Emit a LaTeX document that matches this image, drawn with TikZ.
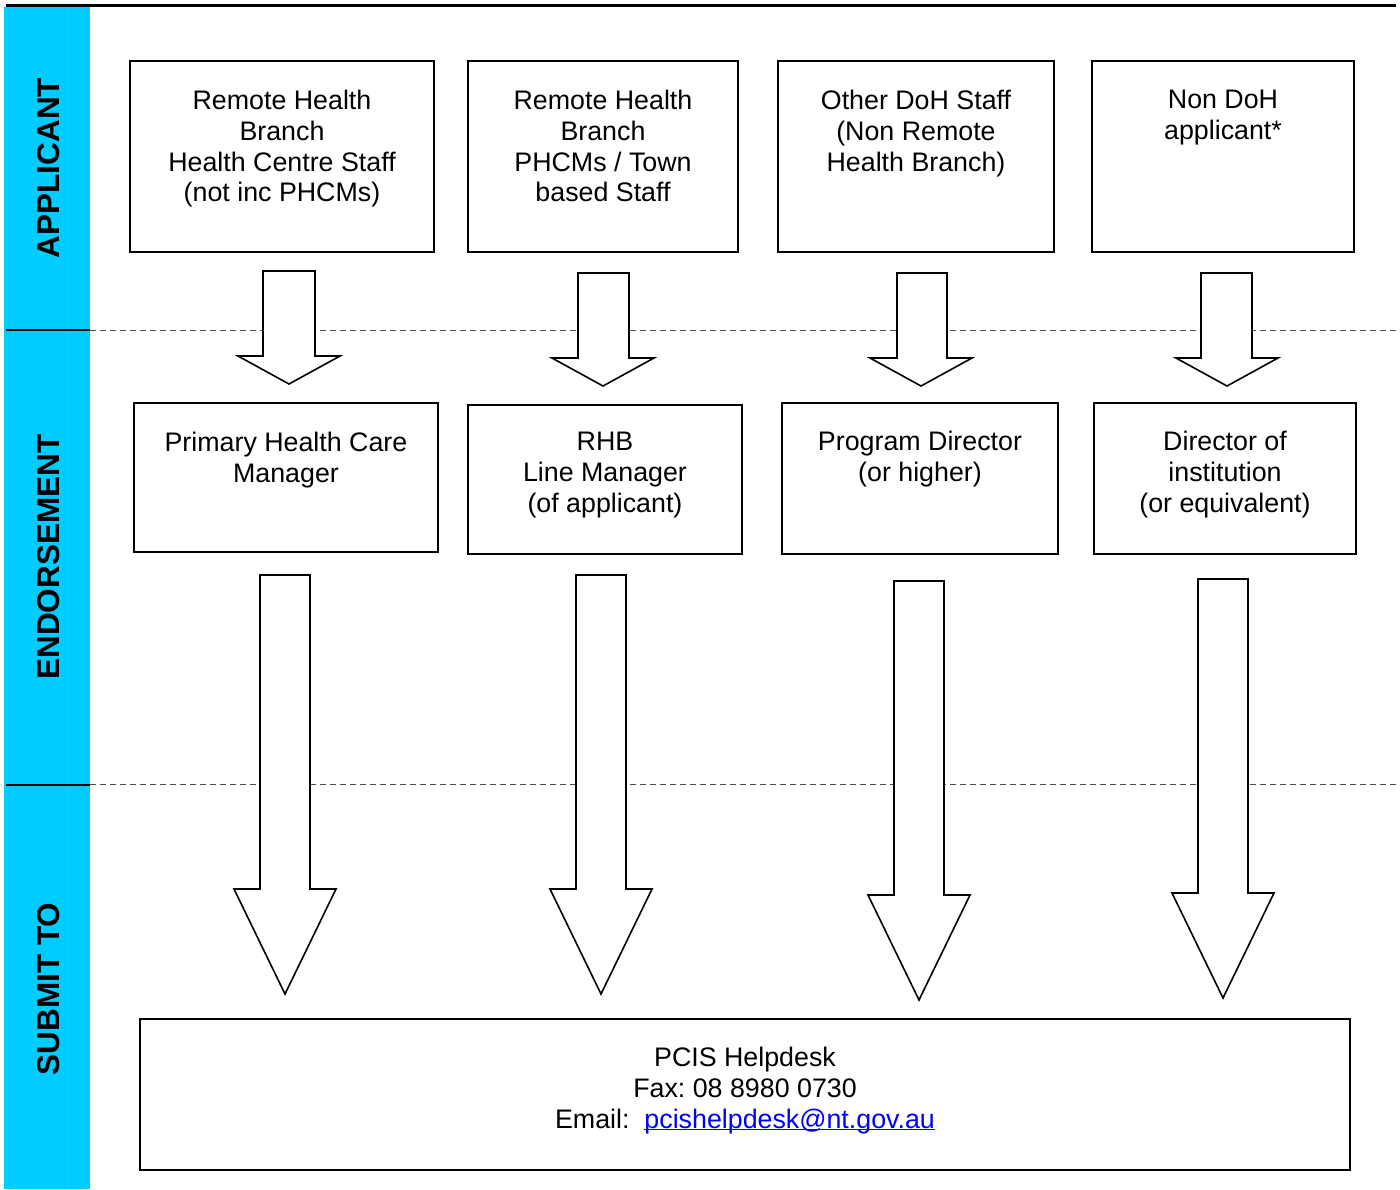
\documentclass[tikz,border=0pt]{standalone}
\usepackage{fontspec}
\setmainfont{Liberation Sans}
\usetikzlibrary{positioning}
\frenchspacing
\definecolor{band}{RGB}{0,204,255}
\definecolor{bandline}{RGB}{20,206,255}
\definecolor{link}{RGB}{0,0,255}
\tikzset{
  box/.style={draw=black, line width=2pt, inner sep=0pt},
  txt/.style={align=center, inner sep=0pt, font=\fontsize{26.8}{30.7}\selectfont},
  side/.style={rotate=90, inner sep=0pt, font=\fontsize{31.5}{34}\selectfont\bfseries},
  blk/.style={draw=black, line width=1.6pt, fill=white, line join=miter},
  sep/.style={draw=black!70, line width=1pt, dash pattern=on 6pt off 4pt},
}
\newcommand\linkul[1]{\textcolor{link}{\setbox0=\hbox{#1}\rlap{\rule[-2pt]{\wd0}{1.2pt}}\box0}}
% #1 shaft left, #2 shaft right, #3 top, #4 head y, #5 head left, #6 head right, #7 tip x, #8 tip y
\newcommand\blockarrow[8]{\draw[blk] (#1,#3) -- (#2,#3) -- (#2,#4) -- (#6,#4) -- (#7,#8) -- (#5,#4) -- (#1,#4) -- cycle;}
\begin{document}
\begin{tikzpicture}[x=1pt,y=-1pt]
\useasboundingbox (0,0) rectangle (1400,1189);
% left band
\fill[band] (4,7) rectangle (90,1189);
\draw[bandline, line width=0.4pt] (68,7) -- (68,1189);
\draw[black, line width=2.5pt] (6,5.5) -- (1396,5.5);
% separators
\draw[black, line width=2pt] (6,330) -- (90,330);
\draw[sep] (90,330) -- (1400,330);
\draw[black, line width=2pt] (6,784.5) -- (90,784.5);
\draw[sep] (90,784.5) -- (1400,784.5);
% side labels
\node[side, anchor=south] (lapp) at (60,168) {APPLICANT};
\node[side, anchor=south] (lend) at (60,557) {ENDORSEMENT};
\node[side, anchor=south] (lsub) at (60,989) {SUBMIT TO};
% applicant boxes
\node[box, minimum width=304, minimum height=191] (a1) at (282,156.5) {};
\node[box, minimum width=270, minimum height=191] (a2) at (603,156.5) {};
\node[box, minimum width=276, minimum height=191] (a3) at (916,156.5) {};
\node[box, minimum width=262, minimum height=191] (a4) at (1223,156.5) {};
\node[txt, below=30pt of a1.north] (ta1) {Remote Health\\Branch\\Health Centre Staff\\(not inc PHCMs)};
\node[txt, below=30pt of a2.north] (ta2) {Remote Health\\Branch\\PHCMs / Town\\based Staff};
\node[txt, below=30pt of a3.north] (ta3) {Other DoH Staff\\(Non Remote\\Health Branch)};
\node[txt, below=30pt of a4.north] (ta4) {Non DoH\\applicant*};
% endorsement boxes
\node[box, minimum width=304, minimum height=149] (e1) at (286,477.5) {};
\node[box, minimum width=274, minimum height=149] (e2) at (605,479.5) {};
\node[box, minimum width=276, minimum height=151] (e3) at (920,478.5) {};
\node[box, minimum width=262, minimum height=151] (e4) at (1225,478.5) {};
\node[txt, below=30pt of e1.north] (te1) {Primary Health Care\\Manager};
\node[txt, below=28pt of e2.north] (te2) {RHB\\Line Manager\\(of applicant)};
\node[txt, below=29pt of e3.north] (te3) {Program Director\\(or higher)};
\node[txt, below=29pt of e4.north] (te4) {Director of\\institution\\(or equivalent)};
% small arrows
\blockarrow{263}{315}{271}{356}{238}{340}{289}{384}
\blockarrow{578}{629}{273}{358}{552}{654}{603}{386}
\blockarrow{897}{947}{273}{358}{870}{972}{921}{386}
\blockarrow{1201}{1252}{273}{358}{1176}{1278}{1227}{386}
% big arrows
\blockarrow{260}{310}{575}{889}{234}{336}{285}{994}
\blockarrow{576}{626}{575}{889}{550}{652}{601}{994}
\blockarrow{894}{944}{581}{895}{868}{970}{919}{1000}
\blockarrow{1198}{1248}{579}{893}{1172}{1274}{1223}{998}
% submit box
\node[box, minimum width=1210, minimum height=151] (s1) at (745,1094.5) {};
\node[txt, below=29pt of s1.north] (ts1) {PCIS Helpdesk\\Fax: 08 8980 0730\\Email:\ \ \linkul{pcishelpdesk@nt.gov.au}};
\end{tikzpicture}
\end{document}
